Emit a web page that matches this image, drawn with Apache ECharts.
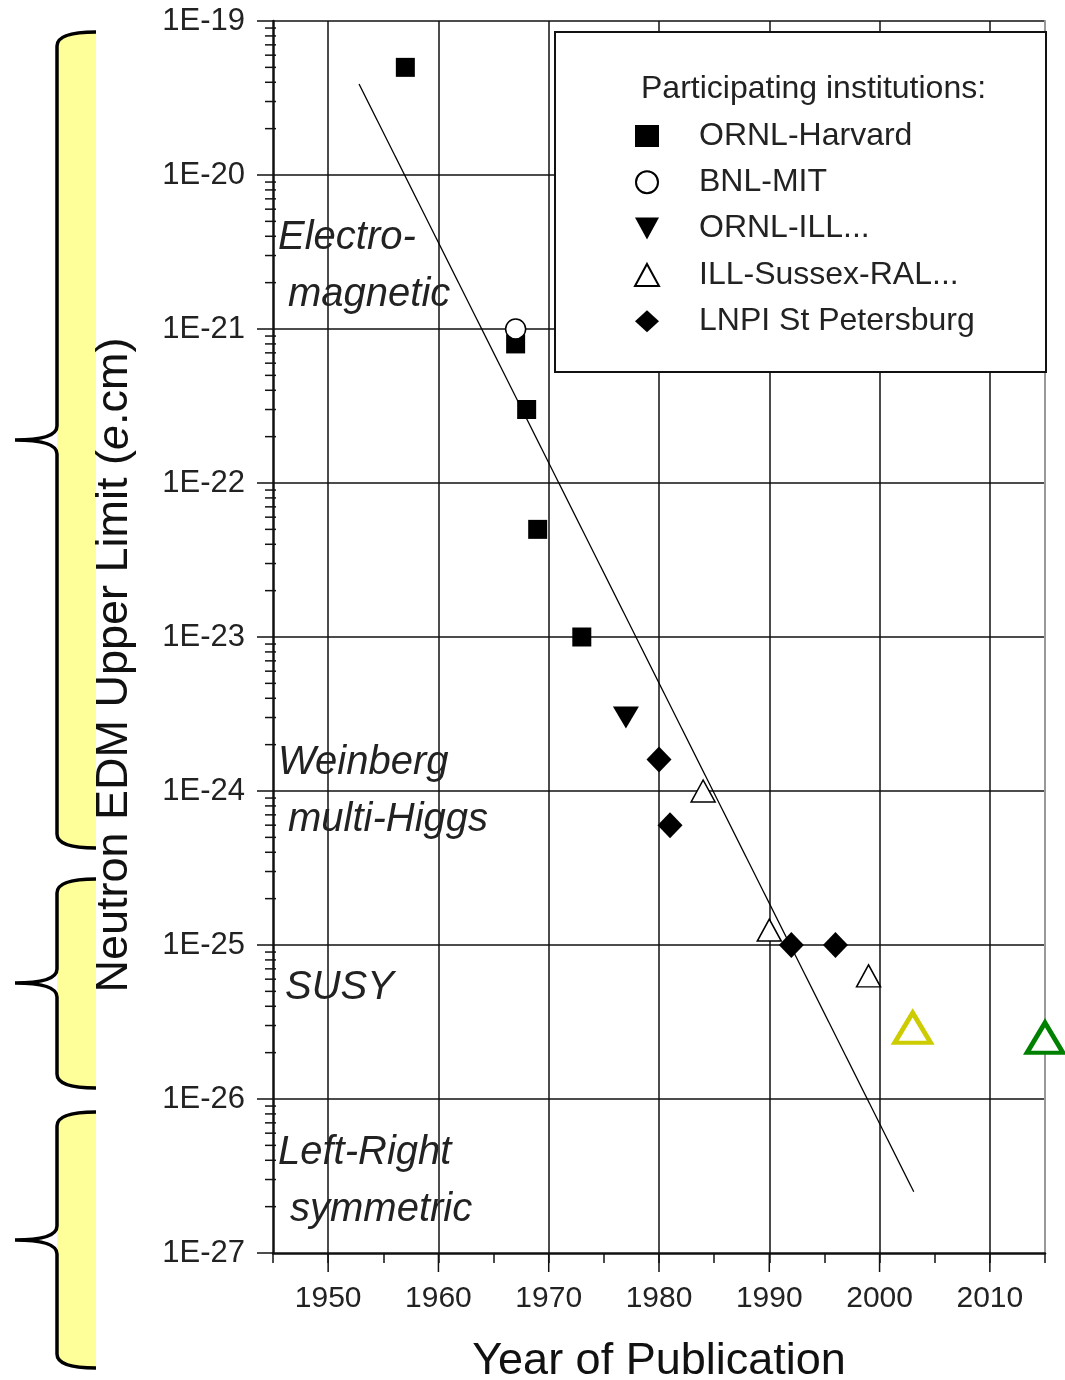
<!DOCTYPE html>
<html>
<head>
<meta charset="utf-8">
<title>Neutron EDM upper limit</title>
<script src="https://cdn.jsdelivr.net/npm/echarts@6/dist/echarts.min.js"></script>
<style>
  html, body { margin: 0; padding: 0; background: #fff; }
  #main { width: 1065px; height: 1380px; }
</style>
</head>
<body>
<div id="main"></div>
<script>
// values
var harvardYears = [1957, 1967, 1968, 1969, 1973];
var harvardLimits = [5e-20, 8e-22, 3e-22, 5e-23, 1e-23];
var mitYears = [1967];
var mitLimits = [1e-21];
var illYears = [1977];
var illLimits = [3e-24];
var sussexYears = [1984, 1990, 1999];
var sussexLimits = [1e-24, 1.25e-25, 6.3e-26];
var lnpiYears = [1980, 1981, 1992, 1996];
var lnpiLimits = [1.6e-24, 6e-25, 1e-25, 1e-25];
var yellowYears = [2003];
var yellowLimits = [2.9e-26];
var greenYears = [2015];
var greenLimits = [2.5e-26];
var fitYears = [1952.8, 2003.1];
var fitLimits = [3.9e-20, 2.5e-27];

// axis ticks
var yearTicks = [1950, 1960, 1970, 1980, 1990, 2000, 2010];
var decadeExponents = [-27, -26, -25, -24, -23, -22, -21, -20];
var mantissas = [2, 3, 4, 5, 6, 7, 8, 9];
var bottomDecade = [1e-27]; // echarts drops the label at the axis corner, drawn by hand

var seriesNames = ['ORNL-Harvard', 'BNL-MIT', 'ORNL-ILL...', 'ILL-Sussex-RAL...', 'LNPI St Petersburg'];

// brace spans on the left (top, tip, bottom) in page pixels
var braceSpans = [[32, 440, 848], [879, 983, 1088], [1112, 1240, 1368]];

function pairs(xs, ys) {
  return xs.map(function (x, i) { return [x, ys[i]]; });
}

function decadeLabel(v) {
  return '1E' + Math.round(Math.log10(v));
}

var minorLogTicks = [];
decadeExponents.forEach(function (e) {
  mantissas.forEach(function (m) {
    minorLogTicks.push([1945, m * Math.pow(10, e)]);
  });
});

var FONT = 'Liberation Sans, Arial, sans-serif';
var INK = '#111';

function bracePaths(top, mid, bottom) {
  var R = 96, L = 57, T = 15;
  var stroke = 'M' + R + ',' + top + ' Q' + L + ',' + top + ' ' + L + ',' + (top + 14) +
    ' L' + L + ',' + (mid - 14) + ' Q' + L + ',' + mid + ' ' + T + ',' + mid +
    ' Q' + L + ',' + mid + ' ' + L + ',' + (mid + 14) +
    ' L' + L + ',' + (bottom - 14) + ' Q' + L + ',' + bottom + ' ' + R + ',' + bottom;
  var fill = 'M' + R + ',' + top + ' Q' + L + ',' + top + ' ' + L + ',' + (top + 14) +
    ' L' + L + ',' + (bottom - 14) + ' Q' + L + ',' + bottom + ' ' + R + ',' + bottom + ' Z';
  return [
    { type: 'path', shape: { pathData: fill }, style: { fill: '#ffff99', stroke: null } },
    { type: 'path', shape: { pathData: stroke }, style: { fill: null, stroke: '#000', lineWidth: 3.5 } }
  ];
}

function regionText(x, y, text) {
  return {
    type: 'text', x: x, y: y, z: 6,
    style: { text: text, fontSize: 40, fontStyle: 'italic', fontFamily: FONT, fill: '#222', verticalAlign: 'middle' }
  };
}

var chart = echarts.init(document.getElementById('main'));

var option = {
  backgroundColor: '#fff',
  animation: false,
  textStyle: { fontFamily: FONT },
  grid: { left: 273, right: 20, top: 21, bottom: 127, containLabel: false, outerBoundsMode: 'none' },
  xAxis: [{
    type: 'value', min: 1945, max: 2015, interval: 5,
    axisLine: { onZero: false, lineStyle: { color: INK, width: 2.5 } },
    axisTick: { length: 10, lineStyle: { color: INK, width: 1.5 } },
    axisLabel: {
      margin: 31, fontSize: 30, color: '#222',
      formatter: function (v) { return v % 10 === 0 ? String(v) : ''; }
    },
    splitLine: { show: true, lineStyle: { color: ['rgba(0,0,0,0)', INK], width: 1.5 } },
    name: 'Year of Publication', nameLocation: 'middle', nameGap: 86,
    nameTextStyle: { fontSize: 45, color: INK }
  }],
  yAxis: [{
    type: 'log', logBase: 10, min: 1e-27, max: 1e-19, interval: 1,
    axisLine: { show: true, onZero: false, lineStyle: { color: INK, width: 2.5 } },
    axisTick: { show: true, length: 16, lineStyle: { color: INK, width: 1.5 } },
    axisLabel: {
      margin: 28, fontSize: 31, color: '#222', showMinLabel: true, showMaxLabel: true, hideOverlap: false,
      formatter: decadeLabel
    },
    splitLine: { show: true, lineStyle: { color: INK, width: 1.5 } }
  }, {
    type: 'log', logBase: 10, min: 1e-27, max: 1e-19, interval: 1, position: 'right',
    axisLine: { show: true, onZero: false, lineStyle: { color: '#999', width: 2 } },
    axisTick: { show: false }, axisLabel: { show: false }, splitLine: { show: false }
  }],
  legend: {
    orient: 'vertical', left: 634, top: 120, padding: 0, z: 10,
    itemWidth: 24, itemHeight: 22, itemGap: 14.3, selectedMode: false,
    textStyle: { fontSize: 32, color: '#222', lineHeight: 32, fontFamily: FONT, padding: [0, 0, 0, 35] },
    data: [
      { name: seriesNames[0] },
      { name: seriesNames[1] },
      { name: seriesNames[2], icon: 'path://M-12,-10L12,-10L0,12Z' },
      { name: seriesNames[3] },
      { name: seriesNames[4] }
    ]
  },
  graphic: [
    { type: 'rect', z: 5, shape: { x: 555, y: 32, width: 491, height: 340 }, style: { fill: '#fff', stroke: INK, lineWidth: 2 } },
    { type: 'text', x: 641, y: 89, z: 6, style: { text: 'Participating institutions:', fontSize: 32, fontFamily: FONT, fill: '#222', verticalAlign: 'middle' } },
    {
      type: 'text', x: 115, y: 665, rotation: Math.PI / 2, z: 6,
      style: {
        text: 'Neutron EDM Upper Limit ({i|e}.cm)', fontSize: 45, fontFamily: FONT, fill: INK,
        align: 'center', verticalAlign: 'middle',
        rich: { i: { fontSize: 45, fontStyle: 'italic', fontFamily: FONT, fill: INK } }
      }
    },
    regionText(278, 238, 'Electro-'),
    regionText(288, 295, 'magnetic'),
    regionText(278, 763, 'Weinberg'),
    regionText(288, 820, 'multi-Higgs'),
    regionText(285, 988, 'SUSY'),
    regionText(278, 1153, 'Left-Right'),
    regionText(290, 1210, 'symmetric')
  ],
  series: [
    {
      name: 'braces', type: 'custom', silent: true, clip: false, z: 1,
      data: braceSpans,
      renderItem: function (params, api) {
        return { type: 'group', children: bracePaths(api.value(0), api.value(1), api.value(2)) };
      }
    },
    {
      name: 'minor ticks', type: 'custom', silent: true, clip: false, z: 1,
      data: minorLogTicks,
      renderItem: function (params, api) {
        var p = api.coord([api.value(0), api.value(1)]);
        return { type: 'line', shape: { x1: p[0] - 8, y1: p[1], x2: p[0] + 3, y2: p[1] }, style: { stroke: INK, lineWidth: 1.5 } };
      }
    },
    {
      name: 'bottom decade', type: 'custom', silent: true, clip: false, z: 1,
      data: bottomDecade.map(function (v) { return [1945, v]; }),
      renderItem: function (params, api) {
        var v = api.value(1);
        var p = api.coord([api.value(0), v]);
        return {
          type: 'group', children: [
            { type: 'line', shape: { x1: p[0] - 16, y1: p[1], x2: p[0], y2: p[1] }, style: { stroke: INK, lineWidth: 1.5 } },
            { type: 'text', x: p[0] - 28, y: p[1], style: { text: decadeLabel(v), fontSize: 31, fontFamily: FONT, fill: '#222', align: 'right', verticalAlign: 'middle' } }
          ]
        };
      }
    },
    {
      name: 'year ticks', type: 'custom', silent: true, clip: false, z: 1,
      data: yearTicks.map(function (y) { return [y, 1e-27]; }),
      renderItem: function (params, api) {
        var p = api.coord([api.value(0), api.value(1)]);
        return { type: 'line', shape: { x1: p[0], y1: p[1], x2: p[0], y2: p[1] + 19 }, style: { stroke: INK, lineWidth: 1.5 } };
      }
    },
    {
      name: 'ORNL-Harvard', type: 'scatter', symbol: 'rect', symbolSize: 19, z: 3,
      itemStyle: { color: '#000', opacity: 1 }, data: pairs(harvardYears, harvardLimits)
    },
    {
      name: 'BNL-MIT', type: 'scatter', symbol: 'circle', symbolSize: 20, z: 4,
      itemStyle: { color: '#fff', borderColor: '#000', borderWidth: 1.5, opacity: 1 }, data: pairs(mitYears, mitLimits)
    },
    {
      name: 'ORNL-ILL...', type: 'scatter', symbol: 'triangle', symbolRotate: 180, symbolSize: [26, 22], z: 3,
      itemStyle: { color: '#000', opacity: 1 }, data: pairs(illYears, illLimits)
    },
    {
      name: 'ILL-Sussex-RAL...', type: 'scatter', symbol: 'triangle', symbolSize: [24, 22], z: 3,
      itemStyle: { color: '#fff', borderColor: '#000', borderWidth: 1.5, opacity: 1 }, data: pairs(sussexYears, sussexLimits)
    },
    {
      name: 'LNPI St Petersburg', type: 'scatter', symbol: 'diamond', symbolSize: [25, 26], z: 3,
      itemStyle: { color: '#000', opacity: 1 }, data: pairs(lnpiYears, lnpiLimits)
    },
    {
      name: 'yellow', type: 'scatter', symbol: 'triangle', symbolSize: [36, 30], z: 3, clip: false,
      itemStyle: { color: '#fff', borderColor: '#cccc00', borderWidth: 4.5, opacity: 1 }, data: pairs(yellowYears, yellowLimits)
    },
    {
      name: 'green', type: 'scatter', symbol: 'triangle', symbolSize: [36, 30], z: 3, clip: false,
      itemStyle: { color: '#fff', borderColor: '#008000', borderWidth: 4.5, opacity: 1 }, data: pairs(greenYears, greenLimits)
    },
    {
      name: 'fit', type: 'line', symbol: 'none', z: 5, silent: true,
      lineStyle: { color: '#000', width: 1.3 }, data: pairs(fitYears, fitLimits)
    }
  ]
};

chart.setOption(option);
</script>
</body>
</html>
